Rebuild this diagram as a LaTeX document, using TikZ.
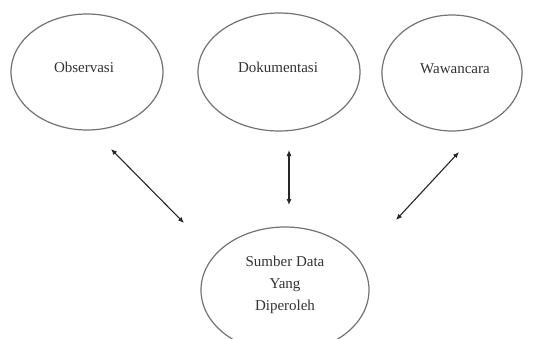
\documentclass[tikz,border=0pt]{standalone}
\usepackage{fontspec}
\setmainfont{Liberation Serif}
\usetikzlibrary{shapes.geometric,arrows.meta}
\begin{document}
\begin{tikzpicture}[x=1pt,y=-1pt,
  oval/.style={draw=black!55,line width=1.2pt,fill=none},
  lbl/.style={text=black!80,font=\fontsize{15}{22}\selectfont,align=center,inner sep=0pt},
  link/.style={draw=black!85,line width=1.1pt,{Latex[length=6pt,width=5pt]}-{Latex[length=6pt,width=5pt]}}]
\useasboundingbox (0,0) rectangle (544,338);
\fill[white] (0,0) rectangle (544,338);
% ellipses
\draw[oval] (87,72) ellipse [x radius=76, y radius=58];
\draw[oval] (279,72) ellipse [x radius=81, y radius=59];
\draw[oval] (452,73) ellipse [x radius=70, y radius=58];
\draw[oval] (285,290) ellipse [x radius=84, y radius=63];
% labels
\node[lbl] (obs) at (84,67) {Observasi};
\node[lbl] (dok) at (278,67) {Dokumentasi};
\node[lbl] (waw) at (455,69) {Wawancara};
\node[lbl] (sum) at (285,285) {Sumber Data\\Yang\\Diperoleh};
% connector ends
\coordinate (a1) at (111,149);
\coordinate (a2) at (184,223);
\coordinate (b1) at (289,150);
\coordinate (b2) at (289,205);
\coordinate (c1) at (459,152);
\coordinate (c2) at (396,220);
\draw[link] (a1) -- (a2);
\draw[link] (b1) -- (b2);
\draw[link] (c1) -- (c2);
\end{tikzpicture}
\end{document}
